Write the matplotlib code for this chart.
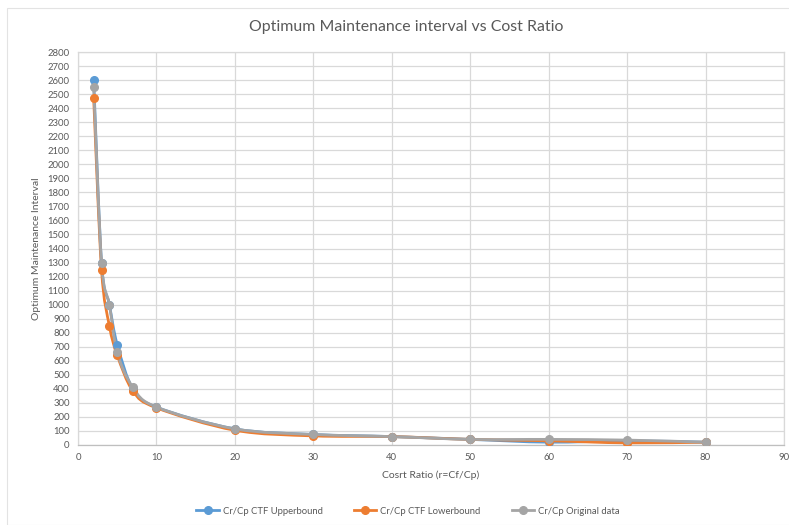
import matplotlib
matplotlib.use("Agg")
import matplotlib.pyplot as plt
import numpy as np
from matplotlib.path import Path
from matplotlib.patches import PathPatch, Rectangle
from matplotlib.lines import Line2D

cost_ratio = [2, 3, 4, 5, 7, 10, 20, 30, 40, 50, 60, 70, 80]
upper = [2600, 1300, 1000, 715, 400, 270, 115, 75, 60, 40, 20, 30, 20]
lower = [2470, 1250, 850, 640, 385, 265, 105, 65, 60, 40, 30, 15, 20]
original = [2550, 1300, 1000, 660, 410, 270, 115, 75, 60, 40, 40, 35, 20]

series = [
    ("Cr/Cp CTF Upperbound", upper, "#5B9BD5"),
    ("Cr/Cp CTF Lowerbound", lower, "#ED7D31"),
    ("Cr/Cp Original data", original, "#A5A5A5"),
]

TXT = "#595959"
GRID = "#D9D9D9"
plt.rcParams["font.family"] = ["Lato", "DejaVu Sans"]


def smooth_path(x, y, t=1 / 6):
    # catmull-rom style bezier through every point, like a spreadsheet "smoothed line"
    pts = np.column_stack([x, y]).astype(float)
    verts, codes = [pts[0]], [Path.MOVETO]
    n = len(pts)
    for i in range(n - 1):
        p0 = pts[max(i - 1, 0)]
        p1, p2 = pts[i], pts[i + 1]
        p3 = pts[min(i + 2, n - 1)]
        c1 = p1 + (p2 - p0) * t
        c2 = p2 - (p3 - p1) * t
        verts += [c1, c2, p2]
        codes += [Path.CURVE4] * 3
    return Path(verts, codes)


fig = plt.figure(figsize=(7.89, 5.25), dpi=100)
fig.patches.append(Rectangle((7 / 789, 0), 1, 1 - 8 / 525, transform=fig.transFigure,
                             fill=False, edgecolor="#E3E3E3", linewidth=0.8))
ax = fig.add_axes([78 / 789, 80 / 525, (784 - 78) / 789, (445 - 52) / 525])

handles = []
for label, vals, color in series:
    ax.add_patch(PathPatch(smooth_path(cost_ratio, vals), facecolor="none",
                           edgecolor=color, linewidth=2.0, capstyle="round",
                           joinstyle="round", zorder=3))
    ax.plot(cost_ratio, vals, linestyle="none", marker="o", markersize=5.5,
            color=color, zorder=4)
    handles.append(Line2D([], [], color=color, linewidth=2.0, marker="o",
                          markersize=5.5, label=label))

ax.set_xlim(0, 90)
ax.set_ylim(0, 2800)
ax.set_xticks(np.arange(0, 91, 10))
ax.set_yticks(np.arange(0, 2801, 100))
ax.grid(True, color=GRID, linewidth=0.9)
ax.set_axisbelow(True)
ax.tick_params(length=0, labelsize=6.8, colors=TXT, pad=6)
for side, sp in ax.spines.items():
    sp.set_color(GRID)
    sp.set_linewidth(0.9)
ax.spines["bottom"].set_color("#BFBFBF")

ax.set_xlabel("Cosrt Ratio (r=Cf/Cp)", fontsize=7.5, color=TXT, labelpad=6)
ax.set_ylabel("Optimum Maintenance Interval", fontsize=7.5, color=TXT, labelpad=5)

fig.text(406 / 789, 1 - 27 / 525, "Optimum Maintenance interval vs Cost Ratio",
         ha="center", va="center", fontsize=11.4, color=TXT)

fig.legend(handles=handles, loc="center", bbox_to_anchor=(408 / 789, 1 - 511 / 525),
           ncol=3, frameon=False, fontsize=6.8, labelcolor=TXT,
           handlelength=2.4, columnspacing=3.3, handletextpad=0.4)

fig.savefig("out.png", dpi=100, facecolor="white")
